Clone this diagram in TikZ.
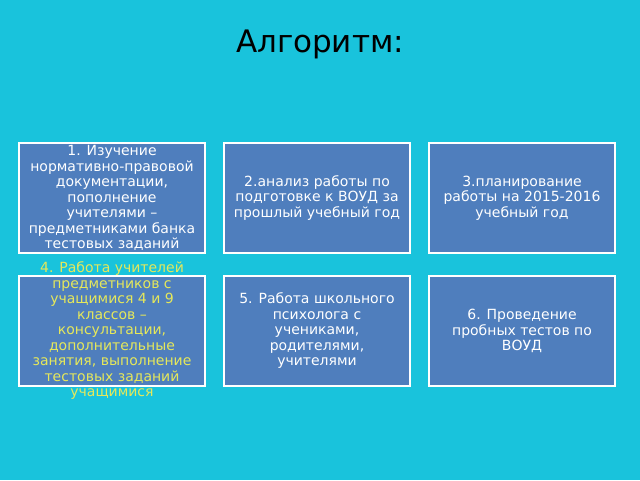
\documentclass[tikz,border=0pt]{standalone}
\usepackage{fontspec}
\setmainfont{DejaVu Sans}
\begin{document}
\begin{tikzpicture}[x=1pt,y=-1pt,
 box/.style={draw=white,line width=1.5pt,fill=boxblue,minimum width=186pt,minimum height=110pt,inner sep=0pt,
  text=white,font=\fontsize{14}{15.5}\selectfont,align=center},
 ]
\definecolor{bg}{HTML}{19C3DC}
\definecolor{boxblue}{HTML}{4F7EBD}
\definecolor{ytext}{HTML}{E6E85A}
\fill[bg] (0,0) rectangle (640,480);
\useasboundingbox (0,0) rectangle (640,480);
\node[font=\fontsize{31}{34}\selectfont] (title) at (320,44) {Алгоритм:};
\node[box] (b1) at (112,198) {1. Изучение\\нормативно-правовой\\документации,\\пополнение\\учителями –\\предметниками банка\\тестовых заданий};
\node[box] (b2) at (317,198) {2.анализ работы по\\подготовке к ВОУД за\\прошлый учебный год};
\node[box] (b3) at (522,198) {3.планирование\\работы на 2015-2016\\учебный год};
\node[box] (b4) at (112,331) {};
\node[text=ytext,font=\fontsize{14}{15.5}\selectfont,align=center] (t4) at (112,331) {4. Работа учителей\\предметников с\\учащимися 4 и 9\\классов –\\консультации,\\дополнительные\\занятия, выполнение\\тестовых заданий\\учащимися};
\node[box] (b5) at (317,331) {5. Работа школьного\\психолога  с\\учениками,\\родителями,\\учителями};
\node[box] (b6) at (522,331) {6. Проведение\\пробных тестов по\\ВОУД};
\end{tikzpicture}
\end{document}
